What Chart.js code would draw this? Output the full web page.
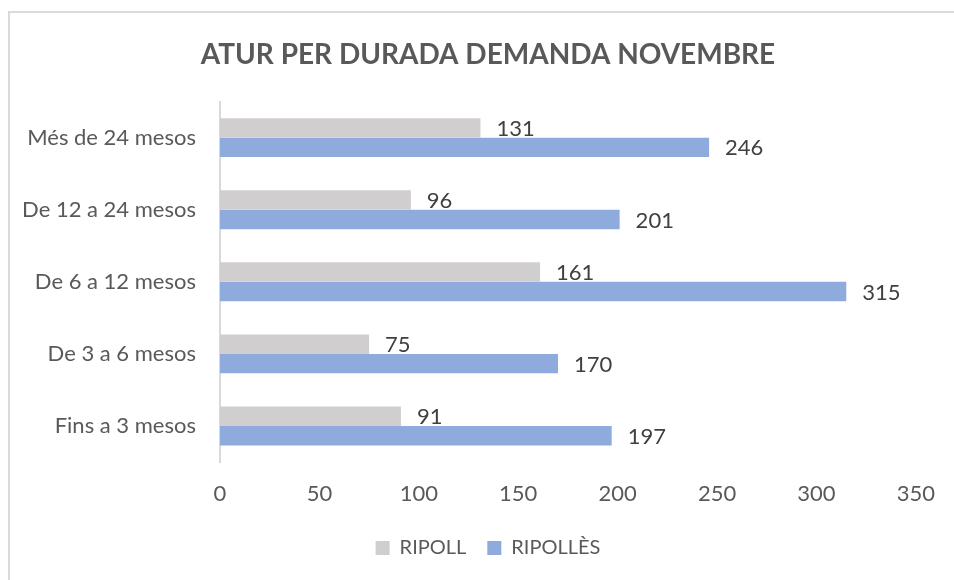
<!DOCTYPE html>
<html>
<head>
<meta charset="utf-8">
<script src="https://cdn.jsdelivr.net/npm/chart.js@4.4.0/dist/chart.umd.min.js"></script>
<style>
  html, body { margin: 0; padding: 0; background: #ffffff; }
  #wrap { position: relative; width: 954px; height: 580px; }
</style>
</head>
<body>
<div id="wrap"><canvas id="myChart" width="954" height="580"></canvas></div>
<script>
const categories = ['Més de 24 mesos', 'De 12 a 24 mesos', 'De 6 a 12 mesos', 'De 3 a 6 mesos', 'Fins a 3 mesos'];
const ripoll = [131, 96, 161, 75, 91];
const ripolles = [246, 201, 315, 170, 197];
const xTicks = [0, 50, 100, 150, 200, 250, 300, 350];

const FONT = 'Lato, "Open Sans", sans-serif';
const TXT = 22;

// border round the whole chart, as in the spreadsheet export
const frame = {
  id: 'frame',
  beforeDraw(chart) {
    const c = chart.ctx;
    c.save();
    c.strokeStyle = '#d9d9d9';
    c.lineWidth = 2;
    c.strokeRect(9, 12, chart.width + 20, chart.height + 20);
    c.restore();
  }
};

// value labels just past the end of each bar
const barLabels = {
  id: 'barLabels',
  afterDatasetsDraw(chart) {
    const c = chart.ctx;
    c.save();
    c.font = TXT + 'px ' + FONT;
    c.fillStyle = '#404040';
    c.textAlign = 'left';
    c.textBaseline = 'middle';
    chart.data.datasets.forEach((ds, i) => {
      chart.getDatasetMeta(i).data.forEach((bar, j) => {
        c.fillText(ds.data[j], bar.x + 16, bar.y + 1);
      });
    });
    c.restore();
  }
};

const ctx = document.getElementById('myChart');
const myChart = new Chart(ctx, {
  type: 'bar',
  data: {
    labels: categories,
    datasets: [
      { label: 'RIPOLL', data: ripoll, backgroundColor: '#d0cece' },
      { label: 'RIPOLLÈS', data: ripolles, backgroundColor: '#8faadc' }
    ]
  },
  options: {
    indexAxis: 'y',
    responsive: false,
    animation: false,
    // the frame runs past the right edge, so title and legend centre on it
    layout: { padding: { left: 0, right: -22, top: 0, bottom: 12 } },
    datasets: {
      bar: { categoryPercentage: 0.54, barPercentage: 1.0 }
    },
    plugins: {
      title: {
        display: true,
        text: 'ATUR PER DURADA DEMANDA NOVEMBRE',
        color: '#595959',
        font: { family: FONT, size: 28, weight: 'bold', lineHeight: 1.2 },
        padding: { top: 38, bottom: 30 }
      },
      legend: {
        position: 'bottom',
        labels: {
          color: '#595959',
          font: { family: FONT, size: 20 },
          boxWidth: 14,
          boxHeight: 14,
          padding: 21
        }
      },
      tooltip: { enabled: false }
    },
    scales: {
      x: {
        min: 0,
        max: 350,
        grid: { display: false, drawTicks: false },
        border: { display: false },
        afterBuildTicks: (scale) => { scale.ticks = xTicks.map(v => ({ value: v })); },
        afterFit: (scale) => { scale.height = 55; },
        ticks: {
          color: '#595959',
          padding: 19,
          font: { family: FONT, size: TXT }
        }
      },
      y: {
        grid: { display: false, drawTicks: false },
        border: { display: true, color: '#d9d9d9', width: 2 },
        afterFit: (scale) => { scale.width = 220; },
        ticks: {
          color: '#595959',
          padding: 24,
          font: { family: FONT, size: TXT }
        }
      },
      yRight: {
        type: 'category',
        position: 'right',
        grid: { display: false, drawTicks: false },
        border: { display: false },
        ticks: { display: false },
        afterFit: (scale) => { scale.width = 57; }
      }
    }
  },
  plugins: [frame, barLabels]
});
</script>
</body>
</html>
